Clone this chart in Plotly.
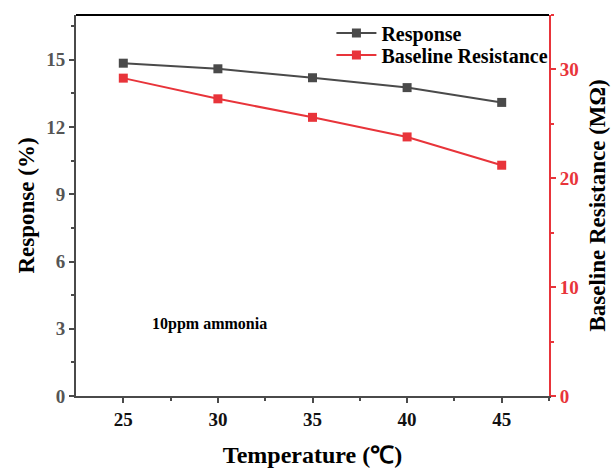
import plotly.graph_objects as go

temperature = [25, 30, 35, 40, 45]
response = [14.85, 14.6, 14.2, 13.76, 13.1]
baseline_resistance = [29.2, 27.3, 25.6, 23.8, 21.2]

GRAY = "#4a4a4a"
RED = "#e8343a"
FONT = "Liberation Serif"

fig = go.Figure()
fig.add_trace(go.Scatter(
    x=temperature, y=response, name="Response", mode="lines+markers",
    line=dict(color=GRAY, width=2), marker=dict(symbol="square", size=9, color=GRAY),
    yaxis="y", legend="legend"))
fig.add_trace(go.Scatter(
    x=temperature, y=baseline_resistance, name="Baseline Resistance", mode="lines+markers",
    line=dict(color=RED, width=2), marker=dict(symbol="square", size=9, color=RED),
    yaxis="y2", legend="legend2"))

legend_font = dict(family=FONT, size=20, color="black", weight="bold")

fig.update_layout(
    width=614, height=468,
    margin=dict(l=76, r=65, t=15, b=72, autoexpand=False),
    plot_bgcolor="white", paper_bgcolor="white",
    font=dict(family=FONT, color="black"),
    showlegend=True,
    legend=dict(x=0.54, y=0.953, xanchor="left", yanchor="middle",
                bgcolor="rgba(0,0,0,0)", font=legend_font, itemwidth=40),
    legend2=dict(x=0.54, y=0.895, xanchor="left", yanchor="middle",
                 bgcolor="rgba(0,0,0,0)", font=legend_font, itemwidth=40),
    xaxis=dict(
        range=[22.5, 47.5], tickvals=[25, 30, 35, 40, 45],
        ticks="outside", ticklen=5, tickwidth=1.5, tickcolor=GRAY,
        minor=dict(tickvals=[27.5, 32.5, 37.5, 42.5, 47.5], ticks="outside", ticklen=3, tickcolor=GRAY, tickwidth=1.5),
        showline=True, linecolor=GRAY, linewidth=2, showgrid=False, zeroline=False,
        tickfont=dict(family=FONT, size=19, color="#111", weight="bold"),
        title=dict(text="Temperature (℃)", font=dict(family=FONT, size=24, color="black", weight="bold"), standoff=18),
    ),
    yaxis=dict(
        range=[0, 17], tickvals=[0, 3, 6, 9, 12, 15],
        ticks="outside", ticklen=5, tickwidth=1.5, tickcolor=GRAY,
        minor=dict(tickvals=[1.5, 4.5, 7.5, 10.5, 13.5, 16.5], ticks="outside", ticklen=3, tickcolor=GRAY, tickwidth=1.5),
        showline=True, linecolor=GRAY, linewidth=2, showgrid=False, zeroline=False,
        tickfont=dict(family=FONT, size=19, color="#555", weight="bold"),
        title=dict(text="Response (%)", font=dict(family=FONT, size=23, color="black", weight="bold"), standoff=5),
    ),
    yaxis2=dict(
        range=[0, 35], tickvals=[0, 10, 20, 30], overlaying="y", side="right",
        ticks="outside", ticklen=5, tickwidth=1.5, tickcolor=RED,
        minor=dict(tickvals=[5, 15, 25, 35], ticks="outside", ticklen=3, tickcolor=RED, tickwidth=1.5),
        showline=True, linecolor=RED, linewidth=2, showgrid=False, zeroline=False,
        tickfont=dict(family=FONT, size=19, color=RED, weight="bold"),
        title=dict(text="Baseline Resistance (MΩ)", font=dict(family=FONT, size=23, color="black", weight="bold"), standoff=11),
    ),
    shapes=[dict(type="line", xref="paper", yref="paper", x0=0, x1=1, y0=1, y1=1,
                 line=dict(color="black", width=2))],
    annotations=[dict(text="10ppm ammonia", x=26.4, y=3.2, xref="x", yref="y",
                      xanchor="left", yanchor="middle", showarrow=False,
                      font=dict(family=FONT, size=16, color="black", weight="bold"))],
)

fig.write_html("out.html")
